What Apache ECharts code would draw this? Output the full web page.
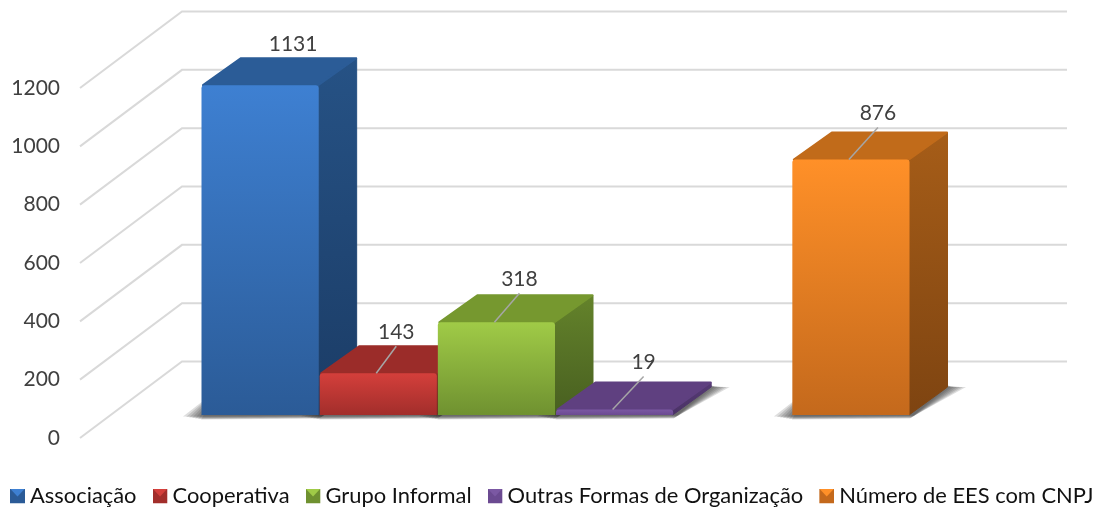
<!DOCTYPE html>
<html>
<head>
<meta charset="utf-8">
<style>
  html, body { margin: 0; padding: 0; background: #fff; }
  #chart { width: 1095px; height: 510px; }
</style>
</head>
<body>
<div id="chart"></div>
<script src="https://cdn.jsdelivr.net/npm/echarts@6/dist/echarts.min.js"></script>
<script>
var seriesNames = ['Associação', 'Cooperativa', 'Grupo Informal', 'Outras Formas de Organização', 'Número de EES com CNPJ'];
var categories = ['Associação', 'Cooperativa', 'Grupo Informal', 'Outras Formas de Organização', '', 'Número de EES com CNPJ'];
var values = [1131, 143, 318, 19, 876];
var yTicks = [0, 200, 400, 600, 800, 1000, 1200];

// front top, front bottom, top face, side top, side bottom
var palette = [
    ['#3e80d2', '#2b5b97', '#2b5c97', '#265285', '#1b3c66'],
    ['#d43f3b', '#a22e2b', '#9b2c29', '#8a2725', '#74201e'],
    ['#a0cb47', '#6f9130', '#76982f', '#64832b', '#485f20'],
    ['#7b58a3', '#6b4a91', '#5f4080', '#553a74', '#4a3265'],
    ['#ff9028', '#c4691c', '#c16b1a', '#a65d18', '#7e4411']
];
// where each value label sits, from the middle of the bar's front top edge
var labelOffsets = [[33, -41], [18, -41], [23, -43], [29, -47], [27, -46]];
var showLeader = [false, true, true, true, true];

var depthX = 38, depthY = -28;   // bar depth on screen
var floorLift = 23;              // bars stand this far above the front floor line

function vgrad(a, b) {
    return { type: 'linear', x: 0, y: 0, x2: 0, y2: 1, colorStops: [{ offset: 0, color: a }, { offset: 1, color: b }] };
}

function swatch(c) {
    var svg = '<svg xmlns="http://www.w3.org/2000/svg" width="15" height="15">' +
        '<rect width="15" height="15" fill="' + c[1] + '"/>' +
        '<polygon points="0,0 15,0 7.5,8" fill="' + c[0] + '"/></svg>';
    return 'image://data:image/svg+xml;charset=utf-8,' + encodeURIComponent(svg);
}

function renderWall(params, api) {
    var y = api.coord([0, api.value(0)])[1];
    var sys = params.coordSys;
    return {
        type: 'polyline',
        silent: true,
        shape: { points: [[sys.x - 121, y], [sys.x - 19, y - 76.5], [sys.x + sys.width + 157, y - 76.5]] },
        style: { fill: null, stroke: '#d9d9d9', lineWidth: 2 }
    };
}

// soft floor shadow, stacked translucent layers
function renderShadow(params, api) {
    var c = api.coord([api.value(0), 0]);
    var w = api.size([1, 0])[0];
    var l = c[0] - w / 2, r = c[0] + w / 2, b = c[1] - floorLift;
    var layers = [];
    for (var e = 18; e >= 0; e -= 3) {
        var low = b + 3.5 - e / 6;
        layers.push({
            type: 'polygon',
            silent: true,
            shape: { points: [[l - e, low + 1], [r + e / 4, low], [r + depthX + e, b + depthY], [r + depthX, b + depthY - 2 + e / 9], [l + 20, b + depthY]] },
            style: { fill: 'rgba(50,50,50,0.16)' }
        });
    }
    return { type: 'group', children: layers };
}

function barRenderer(i) {
    var c = palette[i];
    return function (params, api) {
        var idx = api.value(0), val = api.value(1);
        var top = api.coord([idx, val]);
        var w = api.size([1, 0])[0];
        var l = top[0] - w / 2, r = top[0] + w / 2;
        var b = api.coord([idx, 0])[1] - floorLift;
        var t = top[1] - floorLift;
        var off = labelOffsets[i];
        var children = [
            {
                type: 'polygon',
                shape: { points: [[r - 1, b], [r - 1, t], [r + depthX - 0.5, t + depthY + 1], [r + depthX - 0.5, b + depthY]] },
                style: { fill: vgrad(c[3], c[4]), stroke: vgrad(c[3], c[4]), lineWidth: 1, lineJoin: 'round' }
            },
            {
                type: 'polygon',
                shape: { points: [[l + 2, t], [l + depthX + 2, t + depthY + 1], [r + depthX - 1, t + depthY + 1], [r - 1, t]] },
                style: { fill: c[2], stroke: c[2], lineWidth: 2, lineJoin: 'round' }
            },
            {
                type: 'rect',
                shape: { x: l + 0.5, y: t, width: w - 1, height: b - t, r: [3, 3, 0, 0] },
                style: { fill: vgrad(c[0], c[1]) }
            }
        ];
        if (showLeader[i]) {
            children.push({
                type: 'line',
                shape: { x1: top[0] - 2, y1: t, x2: top[0] + off[0], y2: t + off[1] + 14 },
                style: { stroke: '#a6a6a6', lineWidth: 1.5 }
            });
        }
        children.push({
            type: 'text',
            style: {
                x: top[0] + off[0], y: t + off[1],
                text: String(val),
                fill: '#404040',
                font: '21px Lato',
                align: 'center',
                verticalAlign: 'middle'
            }
        });
        return { type: 'group', children: children };
    };
}

var series = [
    {
        type: 'custom', name: 'walls', z: 1, renderItem: renderWall,
        encode: { y: 0 }, data: yTicks.map(function (t) { return [t]; })
    },
    {
        type: 'custom', name: 'shadows', z: 2, renderItem: renderShadow,
        data: values.map(function (v, i) { return [categories.indexOf(seriesNames[i]), v]; })
    }
];
seriesNames.forEach(function (name, i) {
    series.push({
        type: 'custom',
        name: name,
        z: 3,
        renderItem: barRenderer(i),
        itemStyle: { color: palette[i][0] },
        encode: { x: 0, y: 1 },
        data: [[categories.indexOf(name), values[i]]]
    });
});

var myChart = echarts.init(document.getElementById('chart'), null, { renderer: 'canvas' });
var option = {
    animation: false,
    backgroundColor: '#fff',
    textStyle: { fontFamily: 'Lato' },
    grid: { left: 201, width: 709, top: 88, height: 350 },
    xAxis: {
        type: 'category',
        data: categories,
        show: false
    },
    yAxis: {
        type: 'value',
        min: 0,
        max: 1200,
        interval: 200,
        axisLine: { show: false },
        axisTick: { show: false },
        splitLine: { show: false },
        axisLabel: {
            margin: 141, color: '#404040', fontSize: 21, fontFamily: 'Lato', padding: [0, 0, 6, 0],
            formatter: function (v) { return String(v); }
        }
    },
    legend: {
        left: 10,
        top: 485,
        width: 1085,
        padding: 0,
        itemWidth: 15,
        itemHeight: 15,
        itemGap: 16,
        textStyle: { color: '#111', fontSize: 21.9, fontFamily: 'Lato' },
        data: seriesNames.map(function (name, i) {
            return { name: name, icon: swatch(palette[i]) };
        })
    },
    series: series
};
myChart.setOption(option);
</script>
</body>
</html>
